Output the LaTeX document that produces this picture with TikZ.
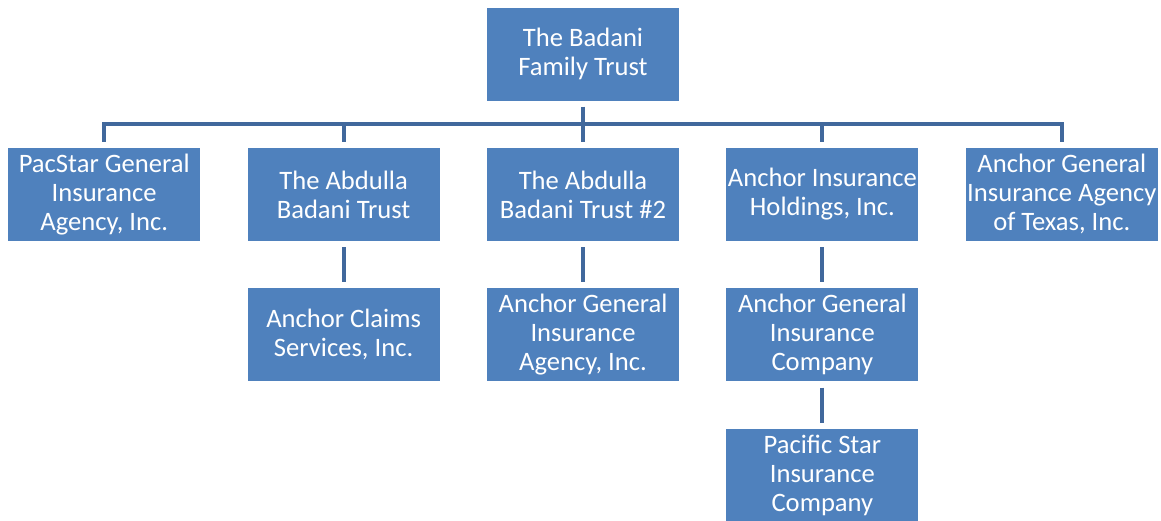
\documentclass[tikz,border=0pt]{standalone}
\usepackage{fontspec}
\setmainfont{Carlito}
\usetikzlibrary{positioning,calc}
\definecolor{boxblue}{HTML}{4F81BD}
\definecolor{lineblue}{HTML}{41689C}

\begin{document}
\begin{tikzpicture}[node distance=47pt]
  \tikzstyle{org}=[rectangle,fill=boxblue,text=white,minimum width=192pt,minimum height=93pt,
    inner xsep=0pt,align=center,font=\fontsize{26.6pt}{29pt}\selectfont]
  \tikzstyle{link}=[draw=lineblue,line width=4pt]
  \useasboundingbox (0,0) rectangle (1161pt,-520pt);
  \node[org] (trust) at (583pt,-54pt) {The Badani\\Family Trust};
  \node[org] (abt2) [below=of trust] {The Abdulla\\Badani Trust \#2};
  \node[org] (abt) [left=of abt2] {The Abdulla\\Badani Trust};
  \node[org] (pacstar) [left=of abt] {PacStar General\\Insurance\\Agency, Inc.};
  \node[org] (aih) [right=of abt2] {Anchor Insurance\\Holdings, Inc.};
  \node[org] (texas) [right=of aih] {Anchor General\\Insurance Agency\\of Texas, Inc.};
  \node[org] (claims) [below=of abt] {Anchor Claims\\Services, Inc.};
  \node[org] (agia) [below=of abt2] {Anchor General\\Insurance\\Agency, Inc.};
  \node[org] (agic) [below=of aih] {Anchor General\\Insurance\\Company};
  \node[org] (psic) [below=of agic] {Pacific Star\\Insurance\\Company};
  \coordinate (bar) at ($(trust.south)!0.5!(abt2.north)$);
  % tree under the trust
  \draw[link] ([yshift=6pt]pacstar.north) |- (bar) -| ([yshift=6pt]texas.north);
  \draw[link,shorten <=6pt,shorten >=6pt] (trust) -- (abt2);
  \draw[link,shorten >=6pt] (abt.north |- bar) -- (abt);
  \draw[link,shorten >=6pt] (aih.north |- bar) -- (aih);
  % lower levels
  \draw[link,shorten <=6pt,shorten >=6pt] (abt) -- (claims);
  \draw[link,shorten <=6pt,shorten >=6pt] (abt2) -- (agia);
  \draw[link,shorten <=6pt,shorten >=6pt] (aih) -- (agic);
  \draw[link,shorten <=6pt,shorten >=6pt] (agic) -- (psic);
\end{tikzpicture}
\end{document}
